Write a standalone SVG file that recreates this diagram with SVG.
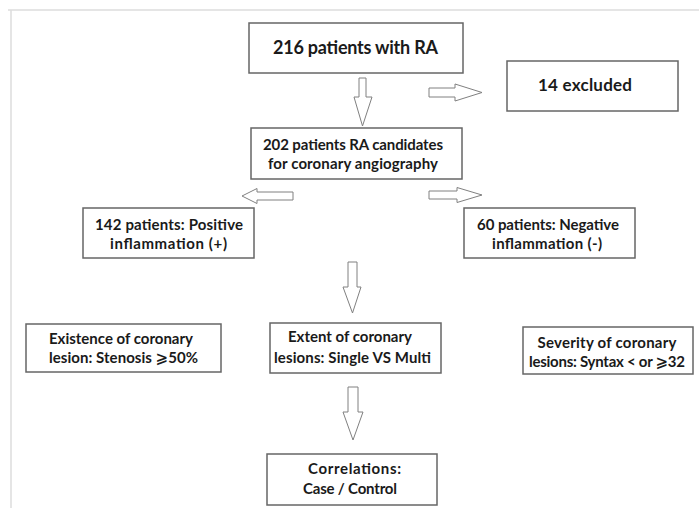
<svg xmlns="http://www.w3.org/2000/svg" width="699" height="508" viewBox="0 0 699 508">
<style>
.box{fill:#fff;stroke:#666;stroke-width:1.5}
.arr{fill:#fff;stroke:#808080;stroke-width:1}
.t{font-family:Lato,"Open Sans","DejaVu Sans",sans-serif;font-weight:bold;font-size:15px;fill:#1a1a1a;text-anchor:middle}
.big{font-size:18px}
.mid{font-size:17px}
.frame{stroke:#ddd;stroke-width:1.5;fill:none}
</style>
<rect width="699" height="508" fill="#fff"/>
<path class="frame" d="M8,10 H699 M11,10 V508"/>
<g id="connectors">
<path class="arr" d="M359,78 H366 V97 H372 L362.5,126 L354,97 H359 Z"/>
<path class="arr" d="M429,88 H455 V84 L482,92.5 L455,101 V97 H429 Z"/>
<path class="arr" d="M293,192 H257 V188.5 L242,196 L257,203.5 V200 H293 Z"/>
<path class="arr" d="M429,191 H457 V187.5 L482,195 L457,202.5 V199 H429 Z"/>
<path class="arr" d="M348,262 H357 V287 H361 L352.5,313 L343,287 H348 Z"/>
<path class="arr" d="M348,387 H358 V412 H363 L353,440 L343,412 H348 Z"/>
</g>
<g id="n1"><rect class="box" x="249" y="23" width="214" height="50"/><text class="t big" x="355.5" y="54" textLength="165">216 patients with RA</text></g>
<g id="n2"><rect class="box" x="507" y="61" width="171" height="50"/><text class="t mid" x="585" y="91" textLength="94">14 excluded</text></g>
<g id="n3"><rect class="box" x="251" y="128" width="211" height="51"/><text class="t" x="353" y="150" textLength="180">202 patients RA candidates</text><text class="t" x="353" y="169" textLength="170">for coronary angiography</text></g>
<g id="n4"><rect class="box" x="83" y="208" width="171" height="50"/><text class="t" x="169" y="230" textLength="148">142 patients: Positive</text><text class="t" x="168.5" y="249" textLength="117">inflammation (+)</text></g>
<g id="n5"><rect class="box" x="464" y="208" width="171" height="50"/><text class="t" x="548" y="230" textLength="142">60 patients: Negative</text><text class="t" x="547" y="249" textLength="110">inflammation (-)</text></g>
<g id="n6"><rect class="box" x="26" y="324" width="195" height="48"/><text class="t" x="121" y="344" textLength="144">Existence of coronary</text><text class="t" x="123.5" y="363" textLength="149">lesion: Stenosis ⩾50%</text></g>
<g id="n7"><rect class="box" x="270" y="323" width="171" height="50"/><text class="t" x="350" y="342" textLength="124">Extent of coronary</text><text class="t" x="352.5" y="363" textLength="157">lesions: Single VS Multi</text></g>
<g id="n8"><rect class="box" x="523" y="327" width="170" height="47"/><text class="t" x="607" y="348" textLength="139">Severity of coronary</text><text class="t" x="607" y="367" textLength="156">lesions: Syntax &lt; or ⩾32</text></g>
<g id="n9"><rect class="box" x="267" y="454" width="170" height="51"/><text class="t" x="354.5" y="474" textLength="93">Correlations:</text><text class="t" x="350" y="494" textLength="94">Case / Control</text></g>
</svg>
